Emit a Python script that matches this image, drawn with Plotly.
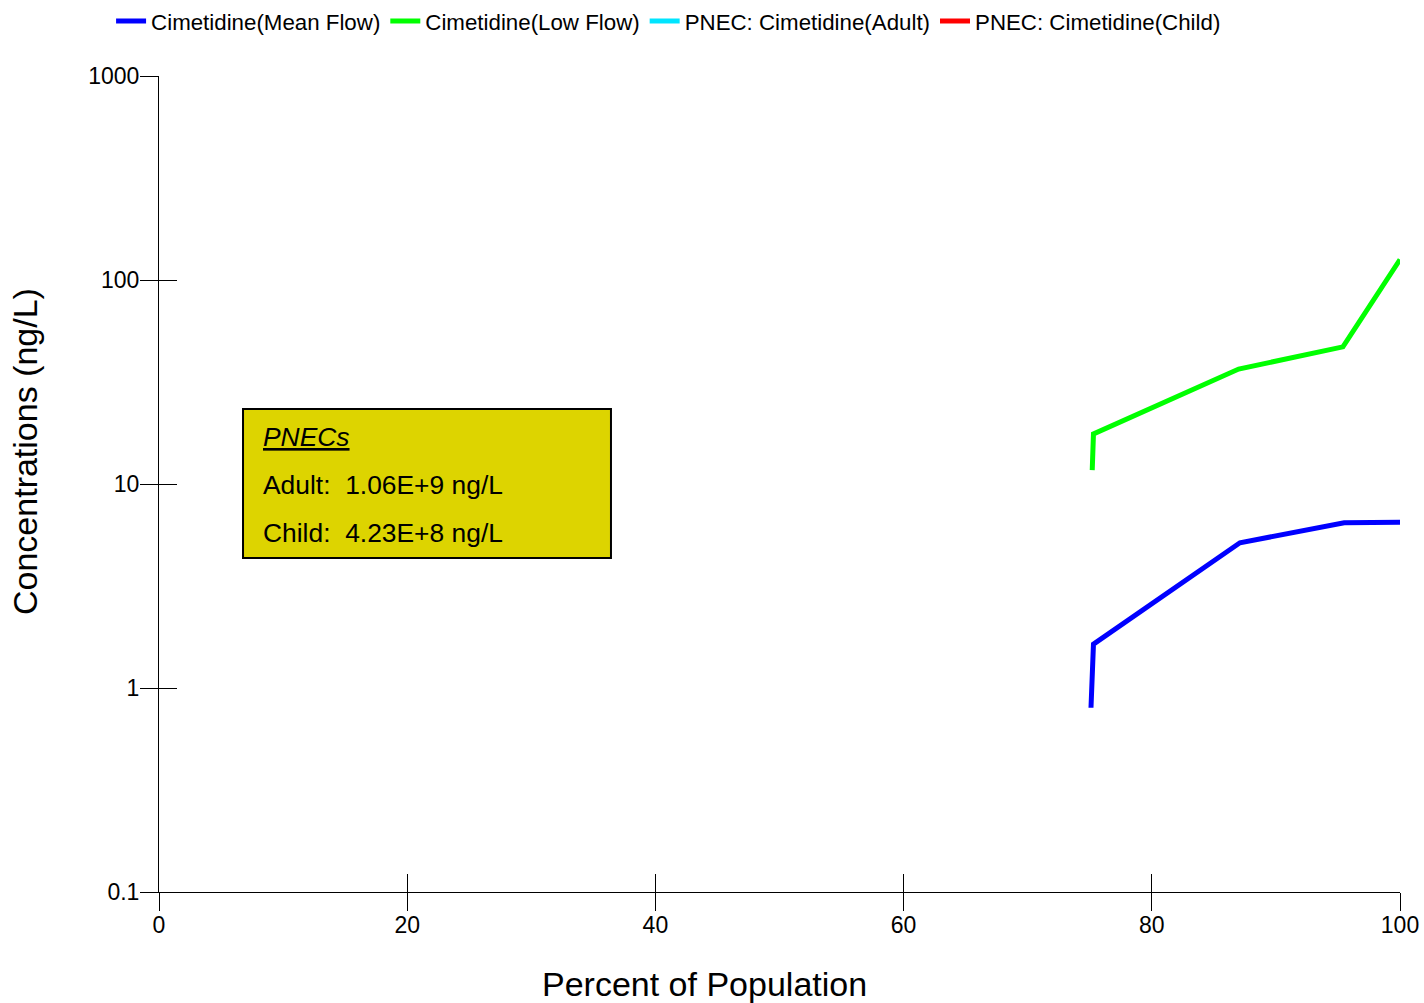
import plotly.graph_objects as go

# Percent of population vs. predicted concentration (ng/L)
mean_x = [75.1, 75.3, 87.1, 95.5, 100.0]
mean_y = [0.80, 1.64, 5.15, 6.45, 6.50]
low_x = [75.2, 75.3, 87.0, 95.4, 100.0]
low_y = [11.7, 17.6, 36.6, 47.0, 126.0]

pnec_adult = 1.06e9
pnec_child = 4.23e8

x_ticks = [0, 20, 40, 60, 80, 100]
y_ticks = [0.1, 1, 10, 100, 1000]
y_tick_text = ["0.1", "1", "10", "100", "1000"]

FONT = "Arial, Liberation Sans, sans-serif"

fig = go.Figure()
fig.add_trace(go.Scatter(x=mean_x, y=mean_y, mode="lines", name="Cimetidine(Mean Flow)",
                         line=dict(color="#0000ff", width=5)))
fig.add_trace(go.Scatter(x=low_x, y=low_y, mode="lines", name="Cimetidine(Low Flow)",
                         line=dict(color="#00ff00", width=5)))
fig.add_trace(go.Scatter(x=[0, 100], y=[pnec_adult, pnec_adult], mode="lines",
                         name="PNEC: Cimetidine(Adult)", line=dict(color="#00e5ff", width=5),
                         xaxis="x2", yaxis="y2"))
fig.add_trace(go.Scatter(x=[0, 100], y=[pnec_child, pnec_child], mode="lines",
                         name="PNEC: Cimetidine(Child)", line=dict(color="#ff0000", width=5),
                         xaxis="x2", yaxis="y2"))

axis_common = dict(showgrid=False, zeroline=False, tickcolor="#000", tickwidth=1, ticklen=18,
                   automargin=False)

fig.update_layout(
    width=1424, height=1003,
    margin=dict(l=159, r=24, t=76, b=111),
    paper_bgcolor="white", plot_bgcolor="white",
    font=dict(family=FONT, color="#000", size=23),
    showlegend=True,
    legend=dict(orientation="h", xref="container", yref="container", x=0.078, y=1.0,
                xanchor="left", yanchor="top", font=dict(size=22.3), itemwidth=30,
                tracegroupgap=0, bgcolor="rgba(0,0,0,0)"),
    xaxis=dict(range=[0, 100], tickvals=x_ticks, ticks="outside", showline=True,
               linecolor="#000", linewidth=1, ticklabelstandoff=-6, **axis_common),
    yaxis=dict(type="log", range=[-1, 3], tickvals=y_ticks, ticktext=y_tick_text,
               ticks="outside", showline=True, linecolor="#000", linewidth=1,
               ticklabelstandoff=-4, **axis_common),
    xaxis2=dict(range=[0, 100], tickvals=x_ticks, ticks="inside", overlaying="x",
                anchor="y2", side="bottom", showticklabels=False, showline=False, **axis_common),
    yaxis2=dict(type="log", range=[-1, 3], tickvals=y_ticks, ticks="inside", overlaying="y",
                anchor="x2", side="left", showticklabels=False, showline=False, **axis_common),
)

# Axis titles
fig.add_annotation(text="Percent of Population", xref="paper", yref="paper",
                   x=0.4392, y=-0.1125, xanchor="center", yanchor="middle", showarrow=False,
                   font=dict(size=34))
fig.add_annotation(text="Concentrations (ng/L)", xref="paper", yref="paper",
                   x=-0.1080, y=0.5404, xanchor="center", yanchor="middle", textangle=-90,
                   showarrow=False, font=dict(size=34))

# PNEC summary box
fig.add_shape(type="rect", xref="x domain", yref="y domain", x0=0.0677, x1=0.3642,
              y0=0.4093, y1=0.5919, fillcolor="#ddd400", line=dict(color="#000", width=2),
              layer="above")
box_lines = [
    ("<i><u>PNECs</u></i>", 0.5576),
    (f"Adult:\u00a0 {pnec_adult:.2E}".replace("E+0", "E+") + " ng/L", 0.4988),
    (f"Child:\u00a0 {pnec_child:.2E}".replace("E+0", "E+") + " ng/L", 0.4400),
]
for txt, yy in box_lines:
    fig.add_annotation(text=txt, xref="x domain", yref="y domain", x=0.0820, y=yy,
                       xanchor="left", yanchor="middle", showarrow=False,
                       font=dict(size=26.4))

fig.write_html("out.html")
